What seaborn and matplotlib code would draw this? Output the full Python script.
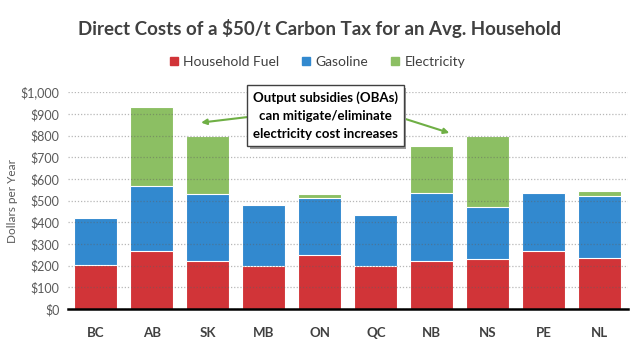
import numpy as np
import pandas as pd
import matplotlib
matplotlib.use('Agg')
import matplotlib.pyplot as plt
import matplotlib.transforms as mtransforms
import seaborn as sns
from matplotlib.patches import Patch, Rectangle

provinces = ['BC', 'AB', 'SK', 'MB', 'ON', 'QC', 'NB', 'NS', 'PE', 'NL']
household_fuel = [202, 265, 222, 196, 248, 198, 222, 231, 265, 237]
gasoline = [216, 303, 306, 285, 263, 234, 314, 239, 271, 284]
electricity = [0, 362, 271, 0, 20, 0, 214, 326, 0, 23]

RED = '#D13438'
BLUE = '#3289CF'
GREEN = '#8CBF63'

sns.set_style('white')
plt.rcParams['font.family'] = ['Lato', 'DejaVu Sans']

df = pd.DataFrame({'province': provinces, 'fuel': household_fuel,
                   'gas': gasoline, 'elec': electricity})
df['fuel_gas'] = df['fuel'] + df['gas']
df['total'] = df['fuel_gas'] + df['elec']

fig = plt.figure(figsize=(6.4, 3.6), dpi=100)
ax = fig.add_axes([0.106, 0.142, 0.875, 0.602])

# stacked look: draw totals first, then overlay the lower parts
for col, c in [('total', GREEN), ('fuel_gas', BLUE), ('fuel', RED)]:
    sns.barplot(data=df, x='province', y=col, color=c, width=0.77,
                edgecolor='white', linewidth=0.8, saturation=1, ax=ax, zorder=2)

ax.set_ylim(0, 1000)
ax.set_yticks(np.arange(0, 1001, 100))
ax.set_yticklabels(['${:,}'.format(v) for v in range(0, 1001, 100)])
ax.yaxis.grid(True, linestyle=(0, (1, 1.5)), color='#606060', linewidth=0.9,
              alpha=0.45, zorder=3)
ax.set_axisbelow(False)
ax.set_xlim(-0.5, len(provinces) - 0.5)

for s in ['top', 'right', 'left']:
    ax.spines[s].set_visible(False)
ax.spines['bottom'].set_color('black')
ax.spines['bottom'].set_linewidth(1.8)
ax.spines['bottom'].set_zorder(4)

ax.tick_params(axis='y', length=0, labelsize=9, labelcolor='#595959', pad=6)
ax.tick_params(axis='x', length=0, labelsize=9.5, labelcolor='#404040', pad=13)
for lab in ax.get_xticklabels():
    lab.set_fontweight('bold')
ax.set_xlabel('')
ax.set_ylabel('Dollars per Year', fontsize=8.5, color='#595959', labelpad=2)

fig.suptitle('Direct Costs of a $50/t Carbon Tax for an Avg. Household',
             x=0.50, y=0.922, va='center', fontsize=13.5, fontweight='bold',
             color='#404040')

handles = [Patch(color=RED, label='Household Fuel'),
           Patch(color=BLUE, label='Gasoline'),
           Patch(color=GREEN, label='Electricity')]
fig.legend(handles=handles, loc='center', bbox_to_anchor=(0.496, 0.828), ncol=3,
           frameon=False, fontsize=10, handlelength=0.6, handleheight=0.6,
           handletextpad=0.4, columnspacing=1.6, labelcolor='#404040')

txt = 'Output subsidies (OBAs)\ncan mitigate/eliminate\nelectricity cost increases'
arrow = dict(arrowstyle='-|>', color='#6FAF45', lw=1.5, mutation_scale=8)
ax.annotate('', xy=(1.83, 858), xytext=(2.9, 891), arrowprops=arrow, zorder=5)
ax.annotate('', xy=(6.36, 808), xytext=(5.3, 895), arrowprops=arrow, zorder=5)

callout = ax.text(4.10, 891, txt, ha='center', va='center', fontsize=9.5,
                  fontweight='bold', color='black', linespacing=1.6, zorder=8,
                  bbox=dict(boxstyle='square,pad=0.45', fc='white', ec='#404040', lw=1.0))

# drop shadow behind the callout box, placed from the box's drawn extent
fig.canvas.draw()
bb = callout.get_bbox_patch().get_window_extent()
shadow = Rectangle((bb.x0 + 2.5, bb.y0 - 2.5), bb.width, bb.height,
                   fc='#9a9a9a', ec='none', zorder=6, clip_on=False)
shadow.set_transform(mtransforms.IdentityTransform())
ax.add_artist(shadow)

fig.savefig('out.png', dpi=100)
